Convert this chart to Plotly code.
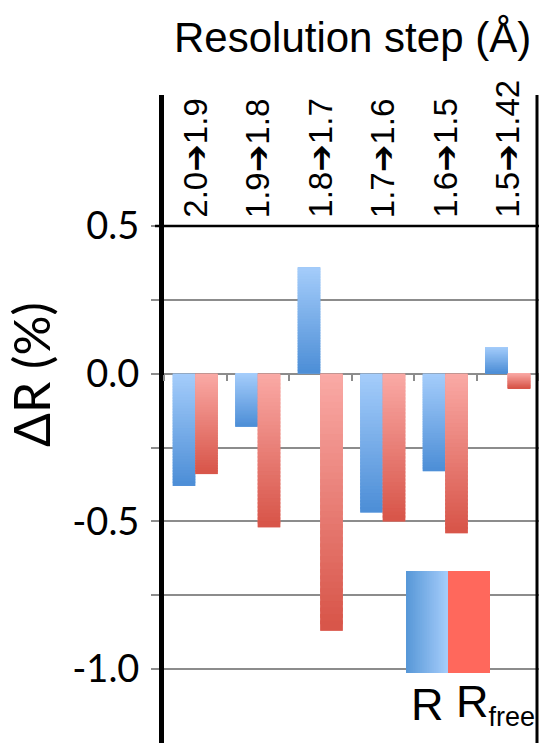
import plotly.graph_objects as go

# ---------------- data ----------------
categories = ["2.0➔1.9", "1.9➔1.8", "1.8➔1.7", "1.7➔1.6", "1.6➔1.5", "1.5➔1.42"]
r_values = [-0.38, -0.18, 0.36, -0.47, -0.33, 0.09]
rfree_values = [-0.34, -0.52, -0.87, -0.50, -0.54, -0.05]
series_names = ["R", "R<sub><span style='font-size:27px'>free</span></sub>"]
y_tick_values = [0.5, 0.0, -0.5, -1.0]
y_tick_labels = ["0.5", "0.0", "-0.5", "-1.0"]
y_minor_values = [0.25, -0.25, -0.75]
x_title = "Resolution step (Å)"
y_title = "ΔR (%)"

# ---------------- layout geometry ----------------
W, H = 539, 743
ML, MR, MT, MB = 164, 0, 95, 0
PW, PH = W - ML - MR, H - MT - MB
Y_RANGE = [-1.25, 0.943]

def px_to_paper_x(px):
    return (px - ML) / PW

def px_to_paper_y(py):
    return (H - MB - py) / PH

BLUE_TOP, BLUE_BOT = (165, 205, 251), (78, 143, 215)
RED_TOP, RED_BOT = (250, 170, 166), (216, 86, 74)

def lerp(c0, c1, t):
    return "rgb(%d,%d,%d)" % tuple(round(a + (b - a) * t) for a, b in zip(c0, c1))

fig = go.Figure()

N = 40
for name, vals, group, ctop, cbot in [
    ("R", r_values, "R", BLUE_TOP, BLUE_BOT),
    ("Rfree", rfree_values, "Rfree", RED_TOP, RED_BOT),
]:
    fig.add_trace(go.Bar(name=name, x=categories, y=vals, offsetgroup=group,
                         marker=dict(color=lerp(ctop, cbot, 0.5), line=dict(width=0)),
                         showlegend=False))
    tops = [max(v, 0) for v in vals]
    lens = [abs(v) for v in vals]
    for k in range(N):
        eps = 0.0 if k == 0 else 0.6
        bases = [t - l * (k + 1) / N for t, l in zip(tops, lens)]
        heights = [l * (1 + eps) / N for l in lens]
        fig.add_trace(go.Bar(x=categories, y=heights, base=bases, offsetgroup=group,
                             marker=dict(color=lerp(ctop, cbot, k / (N - 1)), line=dict(width=0)),
                             showlegend=False, hoverinfo="skip"))

GRID = "#8c8c8c"
zero_pos = (0 - Y_RANGE[0]) / (Y_RANGE[1] - Y_RANGE[0])

fig.update_layout(
    width=W, height=H,
    margin=dict(l=ML, r=MR, t=MT, b=MB, pad=0),
    paper_bgcolor="white", plot_bgcolor="white",
    barmode="group", bargap=0.28, bargroupgap=0,
    showlegend=False,
    xaxis=dict(range=[-0.5, 5.5], showgrid=False, zeroline=False, showline=False,
               showticklabels=False, ticks="outside", tickson="boundaries",
               ticklen=6, tickwidth=1.5, tickcolor=GRID,
               anchor="free", position=zero_pos),
    yaxis=dict(range=Y_RANGE, tickmode="array", tickvals=y_tick_values, ticktext=y_tick_labels,
               showgrid=True, gridcolor=GRID, gridwidth=1.5, zeroline=False,
               showline=True, linecolor="black", linewidth=5,
               ticks="outside", ticklen=8, tickwidth=1.5, tickcolor=GRID,
               ticklabelstandoff=4,
               minor=dict(tickmode="array", tickvals=y_minor_values, showgrid=True,
                          gridcolor=GRID, gridwidth=1.5,
                          ticks="outside", ticklen=8, tickwidth=1.5, tickcolor=GRID),
               tickfont=dict(family="Lato", size=38, color="black")),
)

# black line at 0.5 (top of value area)
fig.add_shape(type="line", xref="paper", yref="y", x0=px_to_paper_x(155), x1=1,
              y0=0.5, y1=0.5, line=dict(color="black", width=2.5), layer="above")
# right frame line
fig.add_shape(type="line", xref="paper", yref="paper", x0=px_to_paper_x(537), x1=px_to_paper_x(537),
              y0=0, y1=1, line=dict(color="black", width=3), layer="above")

# category labels (rotated, above the 0.5 line)
for c in categories:
    fig.add_annotation(x=c, y=0.5, xref="x", yref="y", text=c, textangle=-90,
                       showarrow=False, xanchor="center", yanchor="bottom", yshift=6,
                       font=dict(family="Liberation Sans, DejaVu Sans", size=33, color="black"))

# x title
fig.add_annotation(x=px_to_paper_x(352), y=px_to_paper_y(38), xref="paper", yref="paper",
                   text=x_title, showarrow=False, xanchor="center", yanchor="middle",
                   font=dict(family="Liberation Sans", size=42, color="black"))
# y title
fig.add_annotation(x=px_to_paper_x(31), y=px_to_paper_y(375), xref="paper", yref="paper",
                   text=y_title, textangle=-90, showarrow=False, xanchor="center", yanchor="middle",
                   font=dict(family="Lato", size=50, color="black"))

# legend swatches
LX0, LX1, LX2 = px_to_paper_x(406), px_to_paper_x(448), px_to_paper_x(490)
LY0, LY1 = px_to_paper_y(673), px_to_paper_y(571)
M = 24
LEG_DARK, LEG_LIGHT = (88, 152, 216), (164, 204, 250)
for k in range(M):
    xa = LX0 + (LX1 - LX0) * k / M
    xb = LX0 + (LX1 - LX0) * (k + 1.5) / M if k < M - 1 else LX1
    fig.add_shape(type="rect", xref="paper", yref="paper", x0=xa, x1=xb, y0=LY0, y1=LY1,
                  fillcolor=lerp(LEG_DARK, LEG_LIGHT, k / (M - 1)), line=dict(width=0), layer="above")
fig.add_shape(type="rect", xref="paper", yref="paper", x0=LX1, x1=LX2, y0=LY0, y1=LY1,
              fillcolor="rgb(255,104,92)", line=dict(width=0), layer="above")

fig.add_annotation(x=px_to_paper_x(427), y=px_to_paper_y(704), xref="paper", yref="paper",
                   text=series_names[0], showarrow=False, xanchor="center", yanchor="middle",
                   font=dict(family="Liberation Sans", size=45, color="black"))
fig.add_annotation(x=px_to_paper_x(454), y=px_to_paper_y(704), xref="paper", yref="paper",
                   text=series_names[1], showarrow=False, xanchor="left", yanchor="middle",
                   font=dict(family="Liberation Sans", size=45, color="black"))

fig.write_html("out.html", post_script="document.body.style.margin='0';",
               config={"displayModeBar": False})
